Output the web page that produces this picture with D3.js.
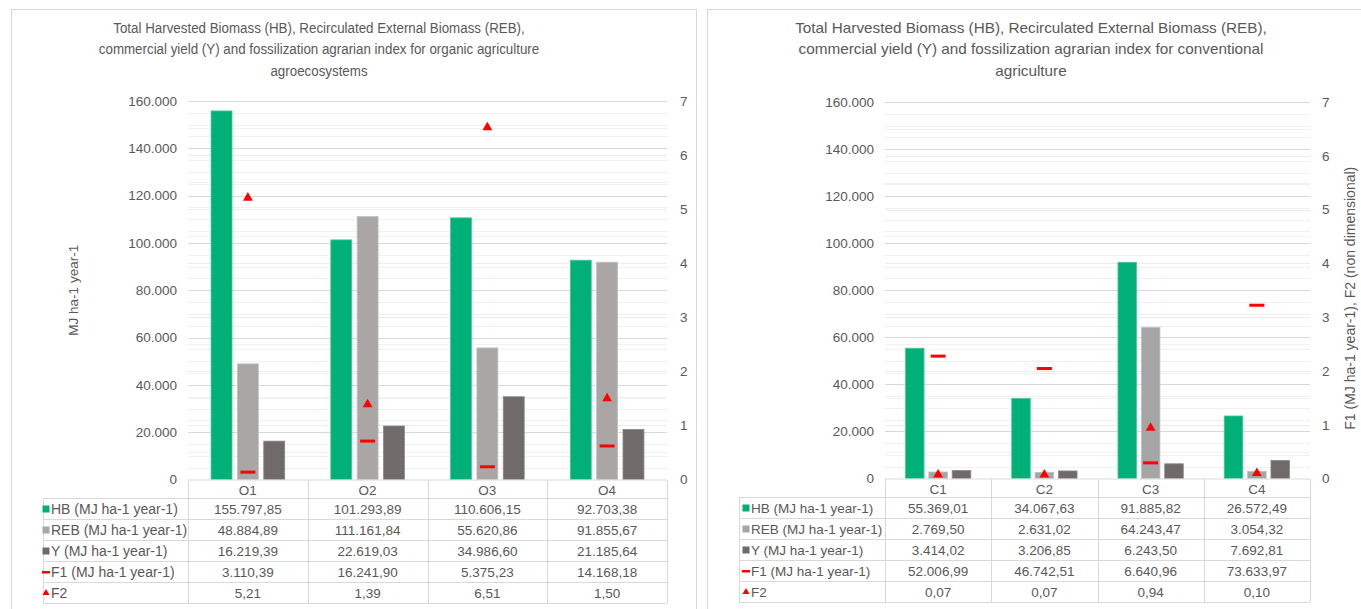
<!DOCTYPE html>
<html>
<head>
<meta charset="utf-8">
<script src="https://cdn.jsdelivr.net/npm/d3@7/dist/d3.min.js"></script>
<style>
  html, body { margin: 0; padding: 0; background: #ffffff; }
  svg { display: block; font-family: "Liberation Sans", Arial, sans-serif; }
</style>
</head>
<body>
<svg id="chart" width="1361" height="609"></svg>
<script>
// ---- data ----
const seriesNames = ["HB", "REB", "Y"];
const rowLabels = ["HB (MJ ha-1 year-1)", "REB (MJ ha-1 year-1)", "Y (MJ ha-1 year-1)", "F1 (MJ ha-1 year-1)", "F2"];

const organicCats = ["O1", "O2", "O3", "O4"];
const organicHB  = [155797.85, 101293.89, 110606.15, 92703.38];
const organicREB = [48884.89, 111161.84, 55620.86, 91855.67];
const organicY   = [16219.39, 22619.03, 34986.60, 21185.64];
const organicF1  = [3110.39, 16241.90, 5375.23, 14168.18];
const organicF2  = [5.21, 1.39, 6.51, 1.50];

const conventionalCats = ["C1", "C2", "C3", "C4"];
const conventionalHB  = [55369.01, 34067.63, 91885.82, 26572.49];
const conventionalREB = [2769.50, 2631.02, 64243.47, 3054.32];
const conventionalY   = [3414.02, 3206.85, 6243.50, 7692.81];
const conventionalF1  = [52006.99, 46742.51, 6640.96, 73633.97];
const conventionalF2  = [0.07, 0.07, 0.94, 0.10];

const primaryTicks = [0, 20000, 40000, 60000, 80000, 100000, 120000, 140000, 160000];
const secondaryTicks = [0, 1, 2, 3, 4, 5, 6, 7];

const organicTitle = [
  "Total Harvested Biomass (HB), Recirculated External Biomass (REB),",
  "commercial yield (Y) and fossilization agrarian index for organic agriculture",
  "agroecosystems"
];
const conventionalTitle = [
  "Total Harvested Biomass (HB), Recirculated External Biomass (REB),",
  "commercial yield (Y) and fossilization agrarian index for conventional",
  "agriculture"
];

// ---- formatting (European separators) ----
const loc = d3.formatLocale({ decimal: ",", thousands: ".", grouping: [3], currency: ["", ""] });
const fmtTick = loc.format(",");
const fmtVal = loc.format(",.2f");

const svg = d3.select("#chart");
const textColor = "#595959";

function drawPanel(cfg) {
  const g = svg.append("g");

  // panel frame
  g.append("rect")
    .attr("x", cfg.frame[0] + 0.5).attr("y", cfg.frame[1] + 0.5)
    .attr("width", cfg.frame[2]).attr("height", cfg.frame[3])
    .attr("fill", "#fff").attr("stroke", "#d9d9d9");

  // title (horizontally condensed to the chart's title box)
  const title = g.append("text")
    .attr("transform", `translate(${cfg.titleX},33) scale(${cfg.titleStretch},1)`)
    .attr("text-anchor", "middle")
    .attr("fill", textColor)
    .attr("font-size", cfg.titleSize);
  cfg.title.forEach((line, i) => {
    title.append("tspan").attr("x", 0).attr("dy", i === 0 ? 0 : 21.5).text(line);
  });

  const y = d3.scaleLinear().domain([0, 160000]).range([cfg.yBottom, cfg.yTop]);
  const y2 = d3.scaleLinear().domain([0, 7]).range([cfg.yBottom, cfg.yTop]);
  const x = d3.scaleBand().domain(cfg.cats).range([cfg.x0, cfg.x1]);
  const bw = x.bandwidth();

  // minor gridlines
  g.append("g").selectAll("line")
    .data(d3.range(0, 160001, 5000).filter(v => v % 20000 !== 0))
    .join("line")
    .attr("x1", cfg.x0).attr("x2", cfg.x1)
    .attr("y1", d => Math.round(y(d)) + 0.5).attr("y2", d => Math.round(y(d)) + 0.5)
    .attr("stroke", "#f0f0f0");
  g.append("g").selectAll("line")
    .data(d3.range(0.5, 7, 1))
    .join("line")
    .attr("x1", cfg.x0).attr("x2", cfg.x1)
    .attr("y1", d => Math.round(y2(d)) + 0.5).attr("y2", d => Math.round(y2(d)) + 0.5)
    .attr("stroke", "#f2f2f2");
  g.append("g").selectAll("line")
    .data(secondaryTicks.slice(1))
    .join("line")
    .attr("x1", cfg.x0).attr("x2", cfg.x1)
    .attr("y1", d => Math.round(y2(d)) + 0.5).attr("y2", d => Math.round(y2(d)) + 0.5)
    .attr("stroke", "#ececec");
  // major gridlines
  g.append("g").selectAll("line")
    .data(primaryTicks.slice(1))
    .join("line")
    .attr("x1", cfg.x0).attr("x2", cfg.x1)
    .attr("y1", d => Math.round(y(d)) + 0.5).attr("y2", d => Math.round(y(d)) + 0.5)
    .attr("stroke", "#d9d9d9");

  // left axis
  const axL = g.append("g")
    .attr("transform", `translate(${cfg.x0},0)`)
    .call(d3.axisLeft(y).tickValues(primaryTicks).tickFormat(fmtTick).tickSize(0).tickPadding(11));
  axL.select(".domain").remove();
  axL.selectAll("text").attr("fill", textColor).attr("font-size", 13.5)
    .attr("font-family", "Liberation Sans, Arial, sans-serif");

  // right axis
  const axR = g.append("g")
    .attr("transform", `translate(${cfg.x1},0)`)
    .call(d3.axisRight(y2).tickValues(secondaryTicks).tickFormat(d3.format("d")).tickSize(0).tickPadding(cfg.rightPad));
  axR.select(".domain").remove();
  axR.selectAll("text").attr("fill", textColor).attr("font-size", 13.5)
    .attr("font-family", "Liberation Sans, Arial, sans-serif");

  // bars
  const barW = bw * 0.175;
  const step = bw * 0.22;
  const seriesData = [cfg.HB, cfg.REB, cfg.Y];
  seriesData.forEach((vals, si) => {
    g.append("g").attr("class", "series-" + seriesNames[si]).selectAll("rect")
      .data(vals)
      .join("rect")
      .attr("x", (d, i) => x(cfg.cats[i]) + bw / 2 + (si - 1) * step - barW / 2)
      .attr("width", barW)
      .attr("y", d => y(d))
      .attr("height", d => cfg.yBottom - y(d))
      .attr("fill", cfg.colors[si])
      .attr("stroke", cfg.strokes[si])
      .attr("stroke-width", 0.8);
  });

  // F1 markers (dash, primary axis)
  g.append("g").selectAll("rect")
    .data(cfg.F1)
    .join("rect")
    .attr("x", (d, i) => x(cfg.cats[i]) + bw / 2 - 7.5)
    .attr("y", d => y(d) - 1.5)
    .attr("width", 15).attr("height", 3)
    .attr("fill", "#ff0000");

  // F2 markers (triangle, secondary axis)
  const tri = d3.symbol().type(d3.symbolTriangle).size(42);
  g.append("g").selectAll("path")
    .data(cfg.F2)
    .join("path")
    .attr("transform", (d, i) => `translate(${x(cfg.cats[i]) + bw / 2},${y2(d)})`)
    .attr("d", tri)
    .attr("fill", "#ff0000");

  // axis baseline
  g.append("line")
    .attr("x1", cfg.x0).attr("x2", cfg.x1)
    .attr("y1", cfg.yBottom + 0.5).attr("y2", cfg.yBottom + 0.5)
    .attr("stroke", "#d9d9d9");

  // axis titles
  if (cfg.leftTitle) {
    g.append("text")
      .attr("transform", `translate(${cfg.leftTitleX},${(cfg.yTop + cfg.yBottom) / 2}) rotate(-90)`)
      .attr("text-anchor", "middle").attr("dominant-baseline", "central")
      .attr("fill", textColor).attr("font-size", 13.5)
      .text(cfg.leftTitle);
  }
  if (cfg.rightTitle) {
    g.append("text")
      .attr("transform", `translate(${cfg.rightTitleX},${(cfg.yTop + cfg.yBottom) / 2 + 8}) rotate(-90)`)
      .attr("text-anchor", "middle").attr("dominant-baseline", "central")
      .attr("fill", textColor).attr("font-size", 14)
      .text(cfg.rightTitle);
  }

  // ---- data table ----
  const rowTop = cfg.yBottom + 0.5;
  const headerH = 18;
  const rowH = 21;
  const tableBottom = rowTop + headerH + rowH * 5;
  const tg = g.append("g").attr("stroke", "#d9d9d9").attr("fill", "none");
  // vertical lines
  [cfg.x0, ...cfg.cats.map(c => x(c) + bw)].forEach(xx => {
    tg.append("line").attr("x1", Math.round(xx) + 0.5).attr("x2", Math.round(xx) + 0.5)
      .attr("y1", rowTop).attr("y2", tableBottom);
  });
  tg.append("line").attr("x1", cfg.tableX + 0.5).attr("x2", cfg.tableX + 0.5)
    .attr("y1", rowTop + headerH).attr("y2", tableBottom);
  // horizontal lines
  d3.range(0, 6).forEach(r => {
    const yy = Math.round(rowTop + headerH + r * rowH) + 0.5;
    tg.append("line").attr("x1", cfg.tableX).attr("x2", cfg.x1).attr("y1", yy).attr("y2", yy);
  });

  // category header
  g.append("g").selectAll("text")
    .data(cfg.cats)
    .join("text")
    .attr("x", d => x(d) + bw / 2)
    .attr("y", rowTop + headerH / 2 + 1)
    .attr("text-anchor", "middle").attr("dominant-baseline", "central")
    .attr("fill", textColor).attr("font-size", 13.5)
    .text(d => d);

  // row labels with legend keys
  const rows = [cfg.HB, cfg.REB, cfg.Y, cfg.F1, cfg.F2];
  rows.forEach((vals, r) => {
    const cy = rowTop + headerH + r * rowH + rowH / 2 + 0.5;
    const kx = cfg.tableX + cfg.keyOffset;
    if (r < 3) {
      g.append("rect").attr("x", kx - 3.5).attr("y", cy - 3.5).attr("width", 7).attr("height", 7)
        .attr("fill", cfg.colors[r]);
    } else if (r === 3) {
      g.append("rect").attr("x", kx - 4).attr("y", cy - 1).attr("width", 8).attr("height", 2.5)
        .attr("fill", "#ff0000");
    } else {
      g.append("path").attr("transform", `translate(${kx},${cy})`)
        .attr("d", d3.symbol().type(d3.symbolTriangle).size(22)).attr("fill", "#ff0000");
    }
    g.append("text")
      .attr("x", kx + 5).attr("y", cy)
      .attr("dominant-baseline", "central")
      .attr("fill", textColor).attr("font-size", cfg.rowLabelSize)
      .text(rowLabels[r]);
    g.append("g").selectAll("text")
      .data(vals)
      .join("text")
      .attr("x", (d, i) => x(cfg.cats[i]) + bw / 2)
      .attr("y", cy)
      .attr("text-anchor", "middle").attr("dominant-baseline", "central")
      .attr("fill", textColor).attr("font-size", 13.5)
      .text(d => fmtVal(d));
  });
}

drawPanel({
  frame: [11, 9, 685, 610],
  title: organicTitle, titleX: 319, titleSize: 15, titleStretch: 0.89,
  cats: organicCats,
  HB: organicHB, REB: organicREB, Y: organicY, F1: organicF1, F2: organicF2,
  x0: 188, x1: 667, yTop: 101, yBottom: 479.5,
  rightPad: 13, tableX: 43, keyOffset: 3, rowLabelSize: 14,
  colors: ["#00b077", "#aaa6a5", "#706b6a"],
  strokes: ["#4cc99e", "#c4c0bf", "#8d8988"],
  leftTitle: "MJ ha-1 year-1", leftTitleX: 73
});

drawPanel({
  frame: [707, 9, 660, 610],
  title: conventionalTitle, titleX: 1031, titleSize: 15, titleStretch: 1.02,
  cats: conventionalCats,
  HB: conventionalHB, REB: conventionalREB, Y: conventionalY, F1: conventionalF1, F2: conventionalF2,
  x0: 885, x1: 1310, yTop: 102, yBottom: 478.5,
  rightPad: 12, tableX: 739, keyOffset: 7, rowLabelSize: 13.5,
  colors: ["#00b077", "#a5a5a5", "#706b6a"],
  strokes: ["#4cc99e", "#c0c0c0", "#8d8988"],
  rightTitle: "F1 (MJ ha-1 year-1), F2 (non dimensional)", rightTitleX: 1350
});
</script>
</body>
</html>
